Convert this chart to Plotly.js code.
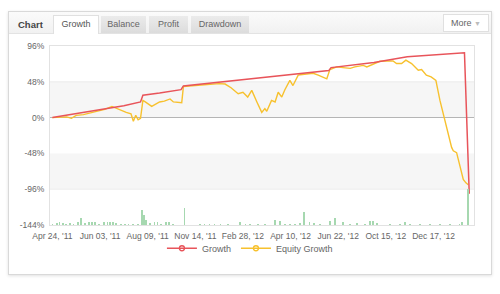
<!DOCTYPE html>
<html><head><meta charset="utf-8">
<script src="https://cdn.plot.ly/plotly-3.0.1.min.js"></script>
<style>
html,body{margin:0;padding:0;background:#fff;width:500px;height:294px;overflow:hidden;font-family:"Liberation Sans",Arial,sans-serif;}
#card{position:absolute;left:8px;top:11px;width:482px;height:262px;border:1px solid #d9d9d9;box-shadow:0 1px 3px rgba(0,0,0,0.12);background:#fff;}
#hdr{position:absolute;left:0;top:0;width:482px;height:21px;background:linear-gradient(#fbfbfb,#f1f1f1);border-bottom:1px solid #e3e3e3;}
#ttl{position:absolute;left:9px;top:4px;height:17px;line-height:17px;font-size:9.5px;font-weight:bold;color:#444;}
.tab{position:absolute;top:4px;height:17px;line-height:17px;font-size:9px;color:#666;text-align:center;background:linear-gradient(#ebebeb,#dcdcdc);}
.tab.on{background:#fff;border:1px solid #e0e0e0;border-bottom:none;height:18px;top:3px;color:#555;}
#more{position:absolute;left:434px;top:2px;width:44px;height:16px;line-height:16px;font-size:9px;color:#666;background:#fff;border:1px solid #e0e0e0;text-align:center;}
#more span{color:#bbb;font-size:7px;}
#plot{position:absolute;left:0;top:0;width:500px;height:294px;}
</style></head>
<body>
<div id="card">
  <div id="hdr"></div>
  <div id="ttl">Chart</div>
  <div class="tab on" style="left:44px;width:44px;">Growth</div>
  <div class="tab" style="left:92px;width:45px;">Balance</div>
  <div class="tab" style="left:140px;width:39px;">Profit</div>
  <div class="tab" style="left:182px;width:58px;">Drawdown</div>
  <div id="more">More <span>&#9660;</span></div>
</div>
<div id="plot"></div>
<script>
// ---- data ----
const tickIdx     = [0, 20, 40, 60, 80, 100, 120, 140, 160];
const tickLabels  = ["Apr 24, '11", "Jun 03, '11", "Aug 09, '11", "Nov 14, '11", "Feb 28, '12", "Apr 10, '12", "Jun 22, '12", "Oct 15, '12", "Dec 17, '12"];
const yTicks      = [96, 48, 0, -48, -96, -144];
const yTickLabels = ["96%", "48%", "0%", "-48%", "-96%", "-144%"];

const growthX = [0, 10, 20, 30, 37, 38, 45, 54, 55, 70, 85, 104, 116, 117, 135, 149, 173, 175];
const growthY = [0, 5.5, 10.5, 16, 21, 30, 33, 37.5, 42.5, 47.5, 52.5, 58, 63, 67, 74, 81.5, 87, -102];

const equityX = [0, 3, 6, 8, 10, 13, 16, 19, 22, 25, 27, 29, 31, 33, 34, 35, 36, 37, 38, 39, 41.7, 45, 47, 49.4, 50.8, 54.3, 55,
  60, 65, 70, 72.5, 75, 78, 80, 82, 83.7, 86, 87.9, 89.2, 90, 92, 93.5, 94.8, 96.3, 97.6, 99.7, 101, 103.2, 104, 109.5, 111.6,
  115.2, 116.5, 119.4, 122, 125, 127, 130.5, 132, 137.5, 143, 144.5, 146.6, 148.4, 150.8, 153.6, 155, 157, 159, 161, 162.7,
  164.8, 166.2, 167.6, 168.3, 169.7, 170.4, 171.8, 172.5, 173.6, 174.6];
const equityY = [0, 0.5, 1, -1, 3, 4, 6, 8, 11, 15, 12, 10, 7, 5, -5, 3, -3, -1, 23, 21, 15, 21, 22, 25, 21, 20, 41.5,
  43, 44.5, 45.5, 45, 40, 32, 34, 27.5, 36.5, 20, 7, 12, 8.5, 23, 21, 34, 27.5, 37.4, 50, 43, 57, 57.5, 59.5, 57,
  52, 64.5, 68, 67, 66, 68, 70, 68, 75.5, 76, 72.5, 72.5, 77, 72.5, 63.5, 64.5, 57, 54.5, 50, 23,
  -4, -22, -40, -44.6, -47, -56, -74, -83, -87.5, -90];

const volumeX = [0, 2, 3.1, 4.5, 5.7, 7.4, 9, 10.8, 12, 13.7, 15.4, 16.6, 17.9, 19.6, 21.7, 23, 24.2, 25.4, 26.7, 28.8, 30.5,
  32, 33.8, 35.9, 37.6, 38.5, 39.3, 41, 43, 44, 45.6, 47.7, 49, 50.6, 55.4, 62, 64, 66, 68, 70.5, 73.7, 78.8, 81, 83, 86.3,
  89.3, 93.5, 95.6, 97.7, 99.8, 101.8, 104, 105.6, 108, 109.8, 112.3, 116.5, 118.6, 122, 125, 127.9, 131.2, 133.3, 134.6,
  136.3, 141.7, 145.9, 148, 150.1, 154.3, 158.5, 162.7, 166.9, 171, 172, 174.5];
const volumeY = [1.5, 2, 2.7, 2.5, 1.5, 2, 1, 3, 6.7, 2, 3.3, 3, 3.3, 1.5, 2.7, 3.3, 3.3, 2.7, 2, 1.5, 1.5,
  1, 1.2, 1.5, 15, 10, 5, 2, 3.3, 2.7, 1.5, 3, 2.7, 1, 17, 1.2, 1.2, 1.5, 1.2, 1, 1, 2.7, 1.2, 1.2, 1.2,
  1.2, 5, 4.3, 1.5, 1.2, 1.2, 2, 12.7, 2.7, 2, 1.2, 4, 7.3, 2.7, 1, 2.5, 1, 4, 4,
  2, 1, 1.5, 2.7, 1.5, 1, 1, 1, 1, 1.2, 2.7, 36];

const RED = '#e8545a', YEL = '#f7c12e', GRN = '#a6d8b0';
const FONT = '"Liberation Sans", Arial, sans-serif';

const traces = [
  {type:'bar', x:volumeX, y:volumeY, yaxis:'y2', width:0.55, marker:{color:GRN, line:{width:0}}, showlegend:false, hoverinfo:'skip'},
  {type:'scatter', mode:'lines', x:equityX, y:equityY, line:{color:YEL, width:1.4}, showlegend:false},
  {type:'scatter', mode:'lines', x:growthX, y:growthY, line:{color:RED, width:1.5}, showlegend:false},
  {type:'scatter', mode:'lines+markers', x:[null], y:[null], name:'Growth', line:{color:RED, width:1.5},
   marker:{symbol:'circle-open', size:5, color:RED, line:{width:1.3}}},
  {type:'scatter', mode:'lines+markers', x:[null], y:[null], name:'Equity Growth', line:{color:YEL, width:1.5},
   marker:{symbol:'circle-open', size:5, color:YEL, line:{width:1.3}}}
];

const layout = {
  width:500, height:294,
  margin:{l:50, r:26, t:46, b:69},
  paper_bgcolor:'rgba(0,0,0,0)', plot_bgcolor:'#fff',
  font:{family:FONT, size:8.5, color:'#666'},
  showlegend:true,
  legend:{orientation:'h', x:0.264, xanchor:'left', y:-0.13, yanchor:'middle', font:{size:9, color:'#666'},
          bgcolor:'rgba(0,0,0,0)', itemwidth:30},
  xaxis:{range:[-1, 177], tickmode:'array', tickvals:tickIdx, ticktext:tickLabels, showgrid:false, zeroline:false,
         showline:true, mirror:true, linecolor:'#e2e2e2', linewidth:1, ticks:'', ticklabelstandoff:3,
         tickfont:{size:8.5, color:'#666'}},
  yaxis:{range:[-144, 96], tickmode:'array', tickvals:yTicks, ticktext:yTickLabels, showgrid:false, zeroline:true,
         zerolinecolor:'#b5b5b5', zerolinewidth:1, showline:true, mirror:true, linecolor:'#e2e2e2', ticks:'',
         ticklabelstandoff:3, tickfont:{size:8.5, color:'#666'}},
  yaxis2:{overlaying:'y', range:[0, 180], visible:false, fixedrange:true},
  bargap:0,
  shapes:[
    {type:'rect', xref:'paper', yref:'y', x0:0, x1:1, y0:0, y1:48, fillcolor:'#f6f6f6', line:{width:0}, layer:'below'},
    {type:'rect', xref:'paper', yref:'y', x0:0, x1:1, y0:-96, y1:-48, fillcolor:'#f6f6f6', line:{width:0}, layer:'below'},
    {type:'line', xref:'paper', yref:'y', x0:0, x1:1, y0:-96, y1:-96, line:{color:'#ececec', width:1}, layer:'below'},
    {type:'line', xref:'paper', yref:'y', x0:0, x1:1, y0:48, y1:48, line:{color:'#ececec', width:1}, layer:'below'}
  ]
};
Plotly.newPlot('plot', traces, layout, {displayModeBar:false, staticPlot:true});
</script>
</body></html>
